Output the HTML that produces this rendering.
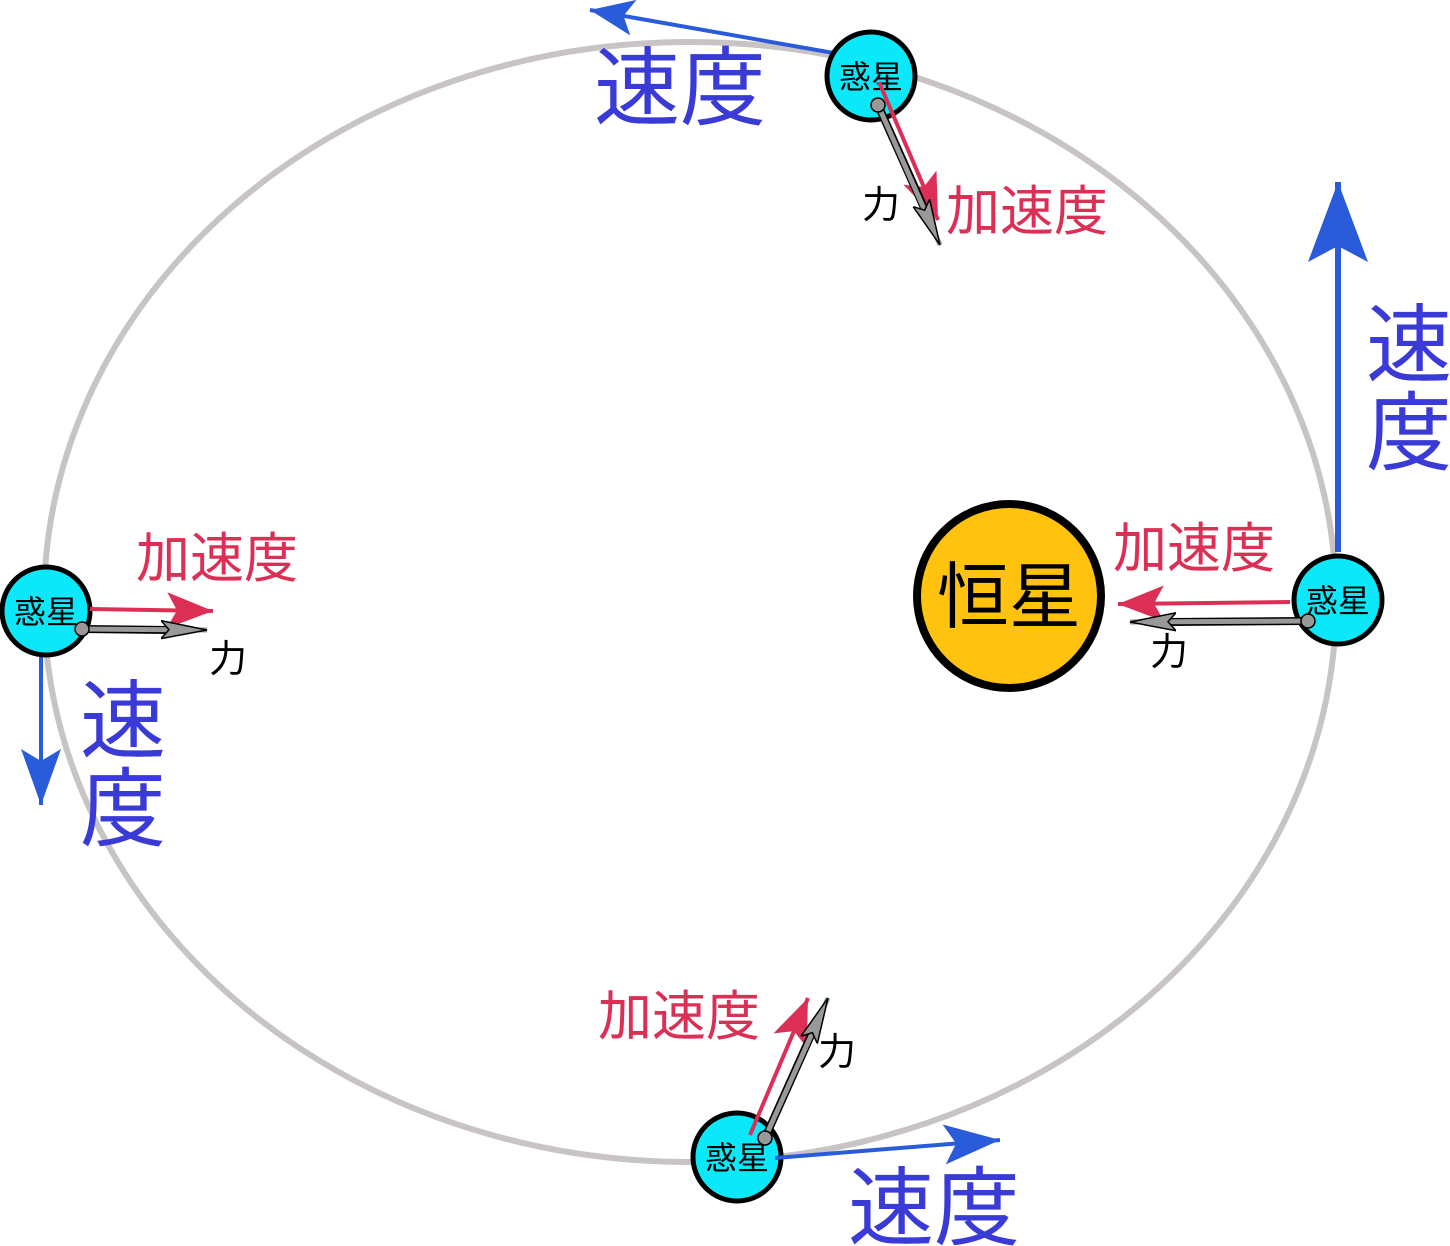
<!DOCTYPE html>
<html><head><meta charset="utf-8"><style>
html,body{margin:0;padding:0;background:#fff}
svg{display:block}
text{font-family:"Liberation Sans","Noto Sans CJK JP",sans-serif}
</style></head><body>
<svg width="1450" height="1246" viewBox="0 0 1450 1246" xmlns="http://www.w3.org/2000/svg">
<defs>
<marker id="bS" markerUnits="userSpaceOnUse" markerWidth="60" markerHeight="40" refX="44" refY="20" orient="auto"><path d="M44,20 L0,2 L10,20 L0,38 Z" fill="#2a5bdb"/></marker>
<marker id="bL" markerUnits="userSpaceOnUse" markerWidth="90" markerHeight="70" refX="80" refY="33" orient="auto"><path d="M80,33 L0,3 L16,33 L0,63 Z" fill="#2a5bdb"/></marker>
<marker id="bM" markerUnits="userSpaceOnUse" markerWidth="70" markerHeight="50" refX="56" refY="22" orient="auto"><path d="M56,22 L0,2 L12,22 L0,42 Z" fill="#2a5bdb"/></marker>
<marker id="r" markerUnits="userSpaceOnUse" markerWidth="60" markerHeight="44" refX="46" refY="20" orient="auto"><path d="M46,20 L0,2 L10,20 L0,38 Z" fill="#dc2f56"/></marker>
<marker id="g" markerUnits="userSpaceOnUse" markerWidth="60" markerHeight="30" refX="46" refY="12" orient="auto"><path d="M46,12 L0,3 L8,12 L0,21 Z" fill="#999" stroke="#000" stroke-width="1.5"/></marker>
</defs>
<ellipse cx="690" cy="602" rx="646" ry="560" fill="none" stroke="#c8c4c4" stroke-width="6"/>

<line x1="845" y1="55" x2="590" y2="10" stroke="#2a5bdb" stroke-width="4" marker-end="url(#bS)"/>
<line x1="1338" y1="552" x2="1338" y2="182" stroke="#2a5bdb" stroke-width="6" marker-end="url(#bL)"/>
<line x1="41" y1="625" x2="41" y2="805" stroke="#2a5bdb" stroke-width="4" marker-end="url(#bM)"/>

<circle cx="1009" cy="596" r="92" fill="#ffc20e" stroke="#000" stroke-width="8"/>
<text x="1009" y="622" font-size="72" text-anchor="middle">恒星</text>

<g fill="#0ae8fa" stroke="#000" stroke-width="5">
<circle cx="871" cy="76" r="44"/>
<circle cx="1338" cy="600" r="44"/>
<circle cx="46" cy="611" r="44"/>
<circle cx="737" cy="1157" r="44"/>
</g>
<g font-size="32" text-anchor="middle">
<text x="871" y="88">惑星</text>
<text x="1338" y="612">惑星</text>
<text x="46" y="623">惑星</text>
<text x="737" y="1169">惑星</text>
</g>

<line x1="775" y1="1158" x2="1000" y2="1140" stroke="#2a5bdb" stroke-width="4" marker-end="url(#bM)"/>

<g stroke="#dc2f56" stroke-width="4">
<line x1="879" y1="82" x2="938" y2="220" marker-end="url(#r)"/>
<line x1="1290" y1="602" x2="1118" y2="604" marker-end="url(#r)"/>
<line x1="90" y1="609" x2="213" y2="611" marker-end="url(#r)"/>
<line x1="750" y1="1135" x2="808" y2="998" marker-end="url(#r)"/>
</g>

<g>
<line x1="878" y1="105" x2="925" y2="210" stroke="#000" stroke-width="8"/>
<line x1="878" y1="105" x2="940" y2="245" stroke="#999" stroke-width="5" marker-end="url(#g)"/>
<circle cx="878" cy="105" r="7" fill="#999" stroke="#000" stroke-width="1.5"/>
<line x1="1308" y1="621" x2="1170" y2="622" stroke="#000" stroke-width="8"/>
<line x1="1308" y1="621" x2="1130" y2="622" stroke="#999" stroke-width="5" marker-end="url(#g)"/>
<circle cx="1308" cy="621" r="7" fill="#999" stroke="#000" stroke-width="1.5"/>
<line x1="82" y1="629" x2="168" y2="630" stroke="#000" stroke-width="8"/>
<line x1="82" y1="629" x2="207" y2="630" stroke="#999" stroke-width="5" marker-end="url(#g)"/>
<circle cx="82" cy="629" r="7" fill="#999" stroke="#000" stroke-width="1.5"/>
<line x1="765" y1="1138" x2="812" y2="1033" stroke="#000" stroke-width="8"/>
<line x1="765" y1="1138" x2="828" y2="998" stroke="#999" stroke-width="5" marker-end="url(#g)"/>
<circle cx="765" cy="1138" r="7" fill="#999" stroke="#000" stroke-width="1.5"/>
</g>

<g fill="#3a3ad6" font-size="86">
<text x="594" y="118">速度</text>
<text x="848" y="1238">速度</text>
<text x="1366" y="375">速</text>
<text x="1366" y="463">度</text>
<text x="80" y="751">速</text>
<text x="80" y="839">度</text>
</g>
<g fill="#dc2f56" font-size="54">
<text x="946" y="230">加速度</text>
<text x="1113" y="567">加速度</text>
<text x="136" y="577">加速度</text>
<text x="598" y="1035">加速度</text>
</g>
<g fill="#000" font-size="38">
<text x="862" y="218">力</text>
<text x="1150" y="665">力</text>
<text x="209" y="672">力</text>
<text x="818" y="1065">力</text>
</g>
</svg>
</body></html>
